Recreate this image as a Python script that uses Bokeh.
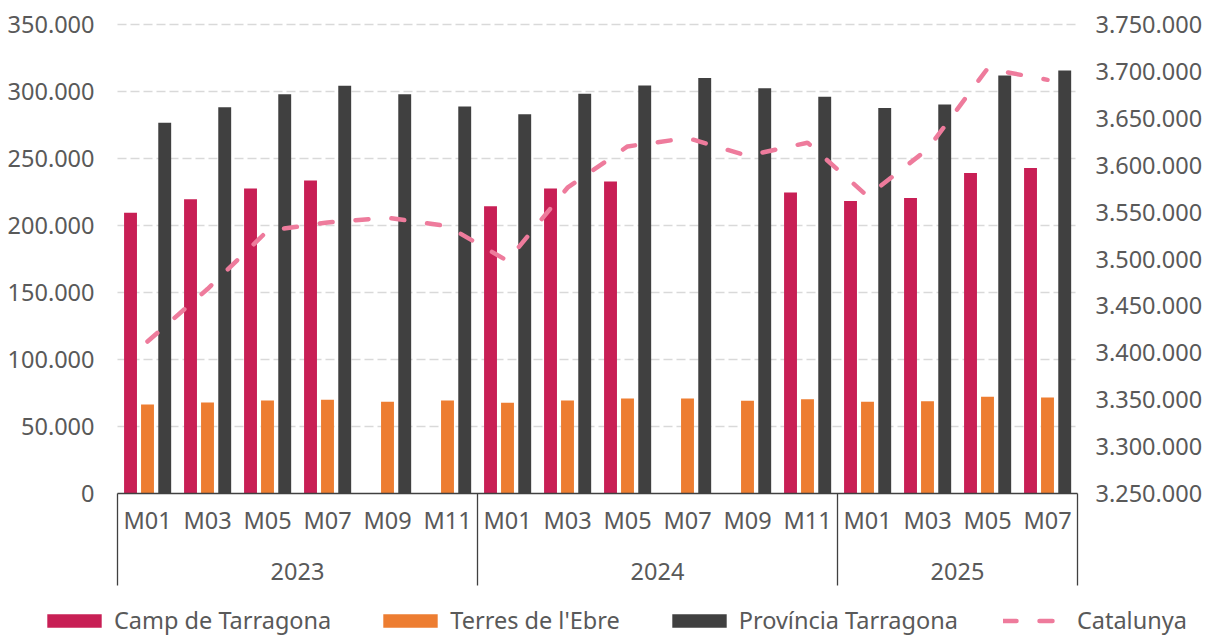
import numpy as np
from bokeh.plotting import figure
from bokeh.models import (ColumnDataSource, Range1d, Legend, LegendItem)
from bokeh.core.properties import value
from bokeh.embed import file_html
from bokeh.resources import INLINE

# ---------------- data ----------------
period_year = ["2023"] * 6 + ["2024"] * 6 + ["2025"] * 4
period_month = ["M01", "M03", "M05", "M07", "M09", "M11",
                "M01", "M03", "M05", "M07", "M09", "M11",
                "M01", "M03", "M05", "M07"]

camp_tarragona = [209500, 219500, 227600, 233600, np.nan, np.nan,
                  214400, 227600, 232800, np.nan, np.nan, 224600,
                  218200, 220600, 239100, 243000]
terres_ebre = [66400, 67900, 69400, 69900, 68400, 69400,
               67700, 69400, 70900, 70900, 69200, 70400,
               68400, 68900, 72200, 71600]
provincia_tarragona = [276700, 288300, 298000, 304300, 298000, 288800,
                       283100, 298300, 304500, 310000, 302500, 296000,
                       287600, 290300, 311900, 315700]
catalunya = [3412000, 3468000, 3530000, 3539000, 3544000, 3535000,
             3498000, 3576000, 3620000, 3629000, 3610000, 3624000,
             3567000, 3617000, 3703000, 3691000]

left_ticks = [0, 50000, 100000, 150000, 200000, 250000, 300000, 350000]
left_labels = ["0", "50.000", "100.000", "150.000", "200.000", "250.000",
               "300.000", "350.000"]
right_ticks = [3250000, 3300000, 3350000, 3400000, 3450000, 3500000,
               3550000, 3600000, 3650000, 3700000, 3750000]
right_labels = ["3.250.000", "3.300.000", "3.350.000", "3.400.000",
                "3.450.000", "3.500.000", "3.550.000", "3.600.000",
                "3.650.000", "3.700.000", "3.750.000"]

series_names = ["Camp de Tarragona", "Terres de l'Ebre",
                "Província Tarragona", "Catalunya"]

# ---------------- styling / layout ----------------
FONT = "Noto Sans"
TXT = "#595959"
AXIS = "#404040"
GRID = "#D9D9D9"
C_CAMP = "#C81F55"
C_TERRES = "#ED7D31"
C_PROV = "#404040"
C_CAT = "#EE7B9C"
FS = "23.5px"

W, H = 1208, 636
PX = 60.0          # px per category
CAT_LEFT = 117     # px where the first category starts
ZERO_Y = 493       # px (from top) of value 0
TOP_Y = 24         # px (from top) of the top tick

n_cat = len(period_month)
upp = (left_ticks[-1] - left_ticks[0]) / (ZERO_Y - TOP_Y)
rupp = (right_ticks[-1] - right_ticks[0]) / (ZERO_Y - TOP_Y)

x_range = Range1d(-CAT_LEFT / PX, (W - CAT_LEFT) / PX)
y_range = Range1d(left_ticks[0] - (H - ZERO_Y) * upp,
                  left_ticks[-1] + TOP_Y * upp)

p = figure(width=W, height=H, x_range=x_range, y_range=y_range,
           output_backend="svg", toolbar_location=None,
           x_axis_location=None, y_axis_location=None,
           min_border=0, min_border_left=0, min_border_right=0,
           min_border_top=0, min_border_bottom=0)
p.extra_y_ranges = {"right": Range1d(right_ticks[0] - (H - ZERO_Y) * rupp,
                                     right_ticks[-1] + TOP_Y * rupp)}
p.outline_line_color = None
p.background_fill_color = "white"
p.border_fill_color = "white"
p.grid.visible = False

xc = [i + 0.5 for i in range(n_cat)]
src = ColumnDataSource(data=dict(
    x=xc, month=period_month,
    camp=camp_tarragona, terres=terres_ebre,
    prov=provincia_tarragona, cat=catalunya))

# gridlines (dashed) across the category area
gt = left_ticks[1:]
p.segment(x0=[0] * len(gt), x1=[n_cat] * len(gt), y0=gt, y1=gt,
          line_color=GRID, line_width=1.5, line_dash="9 4")

# bars
bw = 0.215
r_camp = p.vbar(x=[v - 0.283 for v in xc], top=camp_tarragona, width=bw,
                fill_color=C_CAMP, line_color=None)
r_terres = p.vbar(x=xc, top=terres_ebre, width=bw,
                  fill_color=C_TERRES, line_color=None)
r_prov = p.vbar(x=[v + 0.287 for v in xc], top=provincia_tarragona, width=bw,
                fill_color=C_PROV, line_color=None)

# line on the secondary scale
r_cat = p.line(x="x", y="cat", source=src, y_range_name="right",
               line_color=C_CAT, line_width=4.5, line_dash="13 23",
               line_cap="round")

# y tick labels (left and right scales)
p.text(x=[-23 / PX] * len(left_ticks), y=left_ticks, text=left_labels,
       text_font=value(FONT), text_font_size=FS, text_color=TXT,
       text_align="right", text_baseline="middle")
p.text(x=[n_cat + 18 / PX] * len(right_ticks), y=right_ticks,
       text=right_labels, y_range_name="right",
       text_font=value(FONT), text_font_size=FS, text_color=TXT,
       text_align="left", text_baseline="middle")

# category axis
p.segment(x0=[0], x1=[n_cat], y0=[0], y1=[0], line_color=AXIS,
          line_width=1.6)
bounds = [0]
centers = []
years = list(dict.fromkeys(period_year))
for yr in years:
    n = period_year.count(yr)
    centers.append(bounds[-1] + n / 2)
    bounds.append(bounds[-1] + n)
p.segment(x0=bounds, x1=bounds, y0=[0] * len(bounds),
          y1=[-92 * upp] * len(bounds), line_color=AXIS, line_width=1.3)

p.text(x="x", y=-26 * upp, text="month", source=src,
       text_font=value(FONT), text_font_size=FS, text_color=TXT,
       text_align="center", text_baseline="middle")
p.text(x=centers, y=[-78 * upp] * len(centers), text=years,
       text_font=value(FONT), text_font_size=FS, text_color=TXT,
       text_align="center", text_baseline="middle")

# legend
legend = Legend(items=[LegendItem(label=series_names[0], renderers=[r_camp]),
                       LegendItem(label=series_names[1], renderers=[r_terres]),
                       LegendItem(label=series_names[2], renderers=[r_prov]),
                       LegendItem(label=series_names[3], renderers=[r_cat])],
                orientation="horizontal", location=(40, 0),
                glyph_width=68, glyph_height=17, label_standoff=6,
                spacing=45, padding=0, margin=0,
                border_line_color=None, background_fill_alpha=0,
                label_text_font=FONT, label_text_font_size=FS,
                label_text_color=TXT)
p.add_layout(legend)

open("out.html", "w").write(file_html(p, INLINE))
